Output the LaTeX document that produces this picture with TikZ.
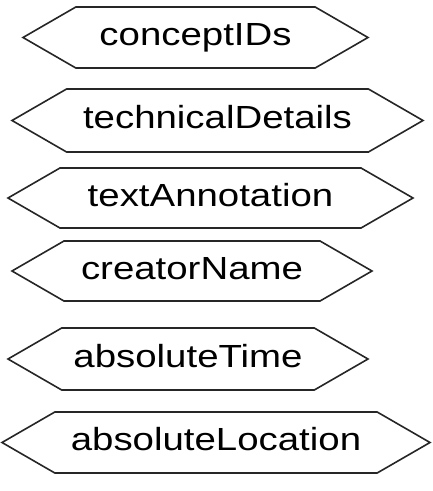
\documentclass[tikz,border=0pt]{standalone}
\usepackage{fontspec}
\setmainfont{Liberation Sans}[FakeStretch=1.2]
\usetikzlibrary{shapes.symbols}

\begin{document}
\begin{tikzpicture}[x=1pt,y=1pt,
  tag/.style={signal,signal to=west and east,signal pointer angle=60,
    draw=black!85,line width=1.6pt,minimum height=61pt,minimum width=#1,
    inner sep=0pt,font=\fontsize{32}{38}\selectfont,text height=23pt,text depth=7pt},
  tag/.default=360pt]
\useasboundingbox (0,0) rectangle (433,-491);
\node[tag=345pt] (concept) at (195.5,-37.5) {conceptIDs};
\node[tag=411pt,minimum height=63pt] (technical) at (217.5,-120.5) {technicalDetails};
\node[tag=405pt,minimum height=60pt] (annotation) at (210.5,-198) {textAnnotation};
\node[tag,minimum height=60pt] (creator) at (192,-271) {creatorName};
\node[tag,minimum height=62pt] (time) at (188,-359) {absoluteTime};
\node[tag=428pt] (location) at (216,-442.5) {absoluteLocation};
\end{tikzpicture}
\end{document}
